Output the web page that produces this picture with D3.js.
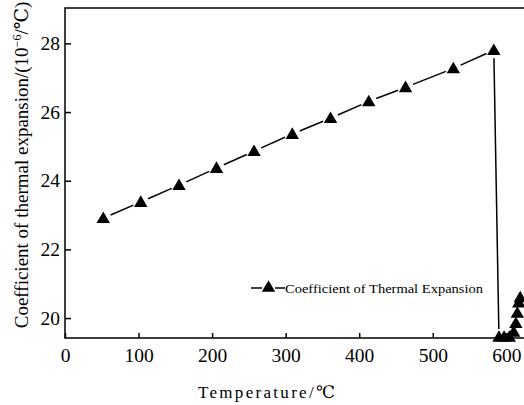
<!DOCTYPE html>
<html>
<head>
<meta charset="utf-8">
<script src="https://cdn.jsdelivr.net/npm/d3@7"></script>
<style>
  html, body { margin: 0; padding: 0; background: #fff; }
  svg { display: block; }
  svg text { font-family: "Times New Roman", "Liberation Serif", "DejaVu Serif", serif; fill: #000; }
</style>
</head>
<body>
<svg id="chart" width="524" height="405"></svg>
<script>
// Temperature (°C) and coefficient of thermal expansion (10^-6/°C)
const temperature = [52, 103, 155, 206, 257, 309, 361, 413, 463, 528, 583, 590, 597, 604, 610, 613, 615, 617, 619];
const cte = [22.91, 23.38, 23.87, 24.37, 24.86, 25.36, 25.82, 26.31, 26.72, 27.27, 27.80,
             19.45, 19.45, 19.45, 19.6, 19.85, 20.15, 20.45, 20.6];
const xTicks = [0, 100, 200, 300, 400, 500, 600];
const yTicks = [20, 22, 24, 26, 28];
const seriesName = "Coefficient of Thermal Expansion";

const serif = "'Times New Roman', 'Liberation Serif', serif";
const svg = d3.select("#chart");
const plotLeft = 65, plotTop = 8, plotBottom = 338, plotRight = 560;

const x = d3.scaleLinear().domain([0, 673]).range([plotLeft, plotRight]);
const y = d3.scaleLinear().domain([19.42, 29.03]).range([plotBottom, plotTop]);

// Frame
svg.append("rect")
  .attr("x", plotLeft).attr("y", plotTop)
  .attr("width", plotRight - plotLeft).attr("height", plotBottom - plotTop)
  .attr("fill", "none").attr("stroke", "#000").attr("stroke-width", 1.5);

// Axes with inward ticks
const xAxis = svg.append("g").attr("transform", `translate(0,${plotBottom})`)
  .call(d3.axisBottom(x).tickValues(xTicks).tickSize(-5).tickPadding(10));
const yAxis = svg.append("g").attr("transform", `translate(${plotLeft},0)`)
  .call(d3.axisLeft(y).tickValues(yTicks).tickSize(-6).tickPadding(5));
[xAxis, yAxis].forEach(g => {
  g.attr("font-family", serif);
  g.select(".domain").remove();
  g.selectAll("line").attr("stroke", "#000").attr("stroke-width", 1.5);
  g.selectAll("text").attr("font-size", 19.5).attr("fill", "#000");
});

// Line segments, trimmed so they stop short of the markers
const pts = temperature.map((t, i) => [x(t), y(cte[i])]);
const gap = 8;
const segs = [];
for (let i = 0; i < pts.length - 1; i++) {
  const [x1, y1] = pts[i], [x2, y2] = pts[i + 1];
  const dx = x2 - x1, dy = y2 - y1, len = Math.hypot(dx, dy);
  if (len <= 2 * gap) continue;
  const ux = dx / len, uy = dy / len;
  segs.push([x1 + ux * gap, y1 + uy * gap, x2 - ux * gap, y2 - uy * gap]);
}
svg.append("g").selectAll("line").data(segs).join("line")
  .attr("x1", d => d[0]).attr("y1", d => d[1])
  .attr("x2", d => d[2]).attr("y2", d => d[3])
  .attr("stroke", "#000").attr("stroke-width", 1.5);

const tri = d3.symbol().type(d3.symbolTriangle).size(78);
svg.append("g").selectAll("path").data(pts).join("path")
  .attr("transform", d => `translate(${d[0]},${d[1] + 1})`)
  .attr("d", tri).attr("fill", "#000");

// Legend
const lg = svg.append("g").attr("transform", "translate(251,288)");
lg.append("line").attr("x1", 0).attr("x2", 11).attr("y1", 0).attr("y2", 0).attr("stroke", "#000").attr("stroke-width", 1.5);
lg.append("line").attr("x1", 24).attr("x2", 34).attr("y1", 0).attr("y2", 0).attr("stroke", "#000").attr("stroke-width", 1.5);
lg.append("path").attr("transform", "translate(17.5,0)").attr("d", tri).attr("fill", "#000");
lg.append("text").attr("x", 34).attr("y", 5).attr("font-size", 13.5)
  .attr("textLength", 198).attr("lengthAdjust", "spacingAndGlyphs").text(seriesName);

// Axis titles
svg.append("text")
  .attr("x", 198).attr("y", 398)
  .attr("font-size", 17)
  .attr("textLength", 137).attr("lengthAdjust", "spacing")
  .text("Temperature/℃");

const yl = svg.append("text")
  .attr("transform", "translate(28,165) rotate(-90)")
  .attr("text-anchor", "middle").attr("font-size", 19);
yl.append("tspan").text("Coefficient of thermal expansion/(10");
yl.append("tspan").attr("dy", -7).attr("font-size", 12).text("−6");
yl.append("tspan").attr("dy", 7).text("/℃)");
</script>
</body>
</html>
